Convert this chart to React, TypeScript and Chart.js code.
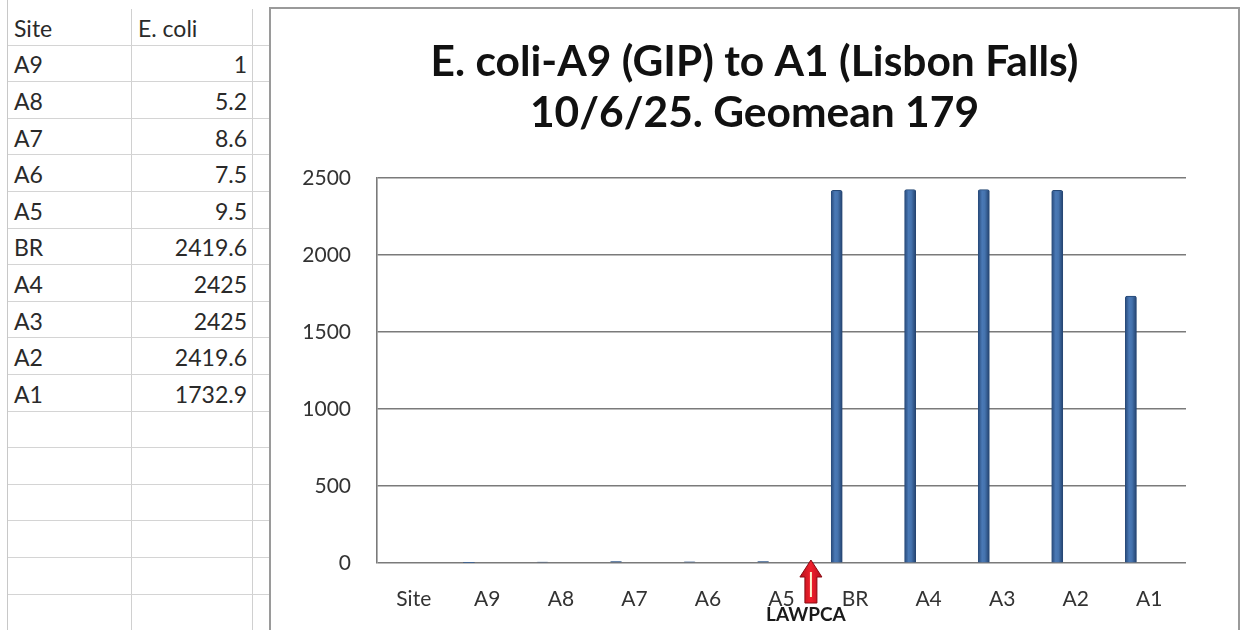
import React, { useEffect, useRef } from 'react';
import { Chart, registerables } from 'chart.js';

Chart.register(...registerables);

// ---- data ----
const categories = ['Site', 'A9', 'A8', 'A7', 'A6', 'A5', 'BR', 'A4', 'A3', 'A2', 'A1'];
const ecoliValues = [0, 1, 5.2, 8.6, 7.5, 9.5, 2419.6, 2425, 2425, 2419.6, 1732.9];
const tableHeader = ['Site', 'E. coli'];
const tableSites = ['A9', 'A8', 'A7', 'A6', 'A5', 'BR', 'A4', 'A3', 'A2', 'A1'];
const tableValues = ['1', '5.2', '8.6', '7.5', '9.5', '2419.6', '2425', '2425', '2419.6', '1732.9'];
const titleLines = ['E. coli-A9 (GIP) to A1 (Lisbon Falls)', '10/6/25. Geomean 179'];
const yMin = 0;
const yMax = 2500;
const yStep = 500;
const annotationText = 'LAWPCA';
const annotationPos = 5.4; // between A5 and BR on the category axis

const FONT = 'Lato, "Open Sans", sans-serif';

// cylinder-like shading drawn over each bar element the library placed
const barShadePlugin = {
  id: 'barShade',
  afterDatasetsDraw(chart: any) {
    const { ctx } = chart;
    const meta = chart.getDatasetMeta(0);
    ctx.save();
    meta.data.forEach((bar: any) => {
      const { x, y, base, width } = bar.getProps(['x', 'y', 'base', 'width'], true);
      const h = base - y;
      if (h < 2) return;
      const l = x - width / 2;
      const g = ctx.createLinearGradient(l, 0, l + width, 0);
      g.addColorStop(0, '#284a7a');
      g.addColorStop(0.35, '#4a79b6');
      g.addColorStop(0.6, '#4573ae');
      g.addColorStop(1, '#24436f');
      ctx.fillStyle = g;
      ctx.fillRect(l, y + 1, width, h - 1);
    });
    ctx.restore();
  },
};

const lawpcaPlugin = {
  id: 'lawpca',
  afterDraw(chart: any) {
    const { ctx, chartArea, scales } = chart;
    const x = scales.x.getPixelForValue(annotationPos);
    const top = chartArea.bottom - 3;
    const bottom = chartArea.bottom + 40;
    ctx.save();
    ctx.beginPath();
    ctx.moveTo(x, top);
    ctx.lineTo(x + 11, top + 17);
    ctx.lineTo(x + 6, top + 17);
    ctx.lineTo(x + 6, bottom);
    ctx.lineTo(x - 6, bottom);
    ctx.lineTo(x - 6, top + 17);
    ctx.lineTo(x - 11, top + 17);
    ctx.closePath();
    const g = ctx.createLinearGradient(x - 11, 0, x + 11, 0);
    g.addColorStop(0, '#b5101c');
    g.addColorStop(0.5, '#f0202c');
    g.addColorStop(1, '#b5101c');
    ctx.fillStyle = g;
    ctx.fill();
    ctx.strokeStyle = '#8a0a12';
    ctx.lineWidth = 1;
    ctx.stroke();
    ctx.beginPath();
    ctx.strokeStyle = '#fff6d0';
    ctx.lineWidth = 2;
    ctx.moveTo(x, top + 12);
    ctx.lineTo(x, bottom - 6);
    ctx.stroke();
    ctx.font = 'bold 19px ' + FONT;
    ctx.fillStyle = '#1a1a1a';
    ctx.textAlign = 'center';
    ctx.textBaseline = 'middle';
    ctx.fillText(annotationText, x - 5, chartArea.bottom + 52);
    ctx.restore();
  },
};

function ChartBox() {
  const ref = useRef<HTMLCanvasElement | null>(null);
  useEffect(() => {
    if (!ref.current) return;
    const chart = new Chart(ref.current, {
      type: 'bar',
      data: {
        labels: categories,
        datasets: [
          {
            label: 'E. coli',
            data: ecoliValues.map((v, i) => ({ x: i, y: v })),
            xAxisID: 'xb',
            backgroundColor: '#3f6aa3',
            borderColor: '#264875',
            borderWidth: 1,
            borderSkipped: 'bottom',
            barThickness: 11,
            borderRadius: { topLeft: 2, topRight: 2, bottomLeft: 0, bottomRight: 0 },
          },
        ],
      },
      options: {
        responsive: false,
        animation: false,
        events: [],
        layout: { padding: { left: 0, right: 0, top: 0, bottom: 0 } },
        plugins: {
          legend: { display: false },
          tooltip: { enabled: false },
          title: {
            display: true,
            text: titleLines,
            color: '#111',
            font: { family: FONT, size: 42.5, weight: 'bold', lineHeight: 1.2 },
            padding: { top: 28, bottom: 39 },
          },
        },
        scales: {
          x: {
            type: 'category',
            position: 'bottom',
            grid: { display: false, drawTicks: false },
            border: { display: false },
            ticks: { color: '#333', font: { family: FONT, size: 21 }, padding: 24, maxRotation: 0, autoSkip: false },
            afterFit: (s: any) => { s.height = 67; },
          },
          xb: {
            type: 'linear',
            display: false,
            offset: false,
            grid: { offset: false },
            min: -0.25,
            max: categories.length - 0.25,
          },
          y: {
            min: yMin,
            max: yMax,
            ticks: {
              stepSize: yStep,
              color: '#333',
              font: { family: FONT, size: 21 },
              padding: 26,
              callback: (v: any) => String(v),
            },
            grid: { color: '#7a7a7a', lineWidth: 1.6, drawTicks: false },
            border: { display: true, color: '#7a7a7a', width: 1.6 },
            afterFit: (s: any) => { s.width = 106; },
          },
          // empty right-hand margin (keeps the title centred on the whole box)
          yRight: {
            type: 'linear',
            position: 'right',
            display: true,
            grid: { display: false, drawTicks: false },
            border: { display: false },
            ticks: { display: false },
            afterFit: (s: any) => { s.width = 52; },
          },
        },
      },
      plugins: [barShadePlugin, lawpcaPlugin],
    } as any);
    return () => chart.destroy();
  }, []);
  return (
    <canvas
      ref={ref}
      width={967}
      height={621}
      style={{ position: 'absolute', left: 271, top: 9, width: 967, height: 621 }}
    />
  );
}

export default function App() {
  const rowH = 36.6;
  const rowCount = 17;
  const rows: React.ReactNode[] = [];
  for (let r = 0; r < rowCount; r++) {
    const isHeader = r === 0;
    const c1 = isHeader ? tableHeader[0] : tableSites[r - 1] ?? '';
    const c2 = isHeader ? tableHeader[1] : tableValues[r - 1] ?? '';
    rows.push(
      <div key={r} style={{ position: 'absolute', left: 8, top: 9 + r * rowH, width: 262, height: rowH, borderBottom: '1px solid #d4d4d4', boxSizing: 'border-box' }}>
        <div style={{ position: 'absolute', left: 0, top: 0, width: 124, height: '100%', borderRight: '1px solid #d0d0d0', boxSizing: 'border-box', paddingLeft: 6, paddingTop: 2, display: 'flex', alignItems: 'center' }}>{c1}</div>
        <div style={{ position: 'absolute', left: 124, top: 0, width: 121, height: '100%', borderRight: '1px solid #d0d0d0', boxSizing: 'border-box', paddingRight: 5, paddingTop: 2, display: 'flex', alignItems: 'center', justifyContent: isHeader ? 'flex-start' : 'flex-end', paddingLeft: isHeader ? 6 : 0 }}>{c2}</div>
      </div>
    );
  }
  return (
    <div style={{ position: 'fixed', left: 0, top: 0, width: 1244, height: 630, overflow: 'hidden', background: '#fff', fontFamily: FONT, fontSize: 23, color: '#2a2a2a' }}>
      <div style={{ position: 'absolute', left: 7, top: 0, width: 1, height: 630, background: '#c8c8c8' }} />
      {rows}
      <div style={{ position: 'absolute', left: 269, top: 7, width: 971, height: 640, border: '2px solid #9a9a9a', boxSizing: 'border-box', background: '#fff' }} />
      <ChartBox />
    </div>
  );
}
